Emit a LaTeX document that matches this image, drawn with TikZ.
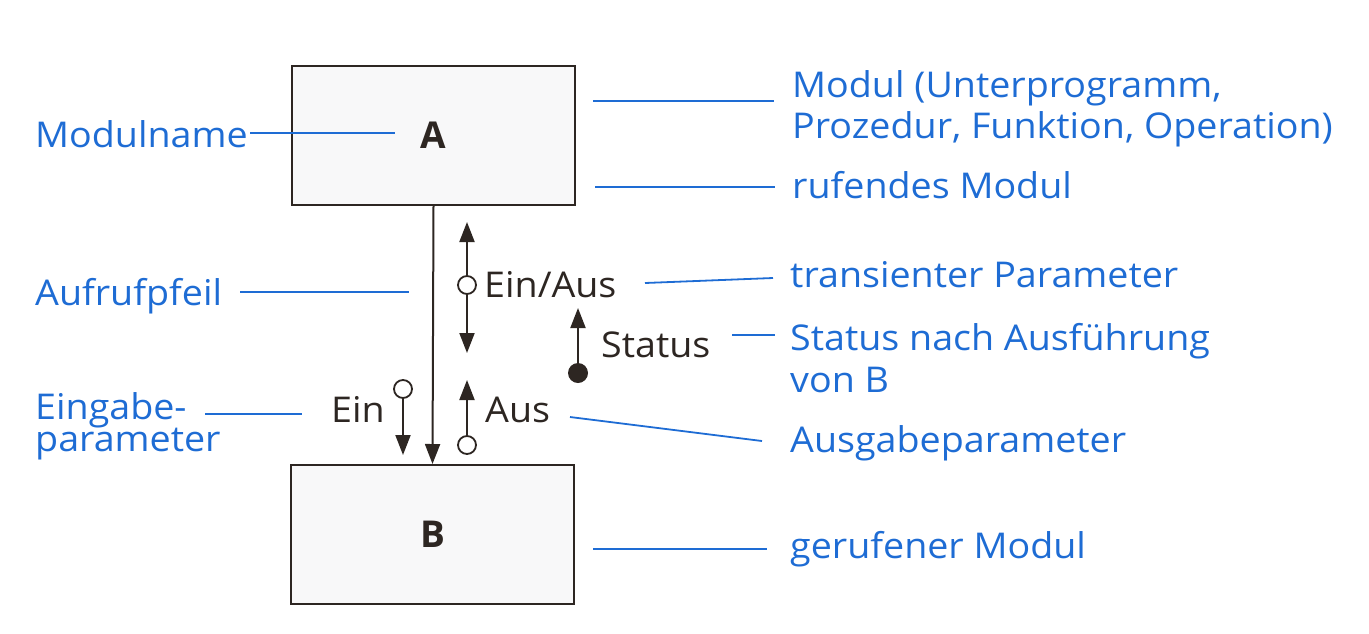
\documentclass[tikz,border=0pt]{standalone}
\usepackage{fontspec}
\setmainfont{Open Sans}
\usetikzlibrary{arrows.meta}
\definecolor{lblue}{RGB}{30,108,212}
\definecolor{ink}{RGB}{45,38,34}
\definecolor{boxfill}{RGB}{248,248,249}
\tikzset{
 modbox/.style={draw=ink, line width=2pt, fill=boxfill, minimum width=283pt, minimum height=139pt, font=\fontsize{37}{42}\selectfont\bfseries, text=ink, inner sep=0},
 lbl/.style={anchor=base west, inner sep=0, xscale=1.06, text=lblue, font=\fontsize{35.5}{42}\selectfont},
 blk/.style={anchor=base west, inner sep=0, xscale=1.06, text=ink, font=\fontsize{35.5}{42}\selectfont},
 lead/.style={draw=lblue, line width=1.8pt},
 flow/.style={draw=ink, line width=2pt, -{Triangle[length=20pt,width=15pt]}},
 opendot/.style={circle, draw=ink, line width=1.8pt, fill=white, minimum size=18pt, inner sep=0},
 fulldot/.style={circle, fill=ink, minimum size=20pt, inner sep=0},
}
\begin{document}
\begin{tikzpicture}[x=1pt,y=-1pt]
\useasboundingbox (0,0) rectangle (1369,633);
% modules
\node[modbox] (A) at (433.5,135.5) {A};
\node[modbox] (B) at (432.5,534.5) {B};
\draw[flow] (A.south) -- (B.north);
% parameters
\node[opendot] (eacirc) at (467,285) {};
\coordinate (eatop) at (467,222);
\coordinate (eabot) at (467,353);
\draw[flow] (eacirc) -- (eatop);
\draw[flow] (eacirc) -- (eabot);
\node[blk] (einaus) at (484,297) {Ein/Aus};
\node[fulldot] (stdot) at (578,373) {};
\coordinate (sttop) at (578,308);
\draw[flow] (stdot) -- (sttop);
\node[blk] (status) at (601,357) {Status};
\node[opendot] (auscirc) at (467,445) {};
\coordinate (austop) at (467,380);
\draw[flow] (auscirc) -- (austop);
\node[blk] (aus) at (485,422) {Aus};
\node[opendot] (eincirc) at (403,389) {};
\coordinate (einbot) at (403,455);
\draw[flow] (eincirc) -- (einbot);
\node[blk] (ein) at (331,422) {Ein};
% left labels
\node[lbl] (modulname) at (35,147) {Modulname};
\node[lbl] (aufruf) at (35,305) {Aufrufpfeil};
\node[lbl] (eingabe1) at (35,419) {Eingabe-};
\node[lbl] (eingabe2) at (35,451) {parameter};
\coordinate (l1a) at (250,133); \coordinate (l1b) at (395,133);
\coordinate (l2a) at (240,292); \coordinate (l2b) at (409,292);
\coordinate (l3a) at (205,414); \coordinate (l3b) at (302,414);
\draw[lead] (l1a) -- (l1b);
\draw[lead] (l2a) -- (l2b);
\draw[lead] (l3a) -- (l3b);
% right labels
\node[lbl] (modul1) at (792,97) {Modul (Unterprogramm,};
\node[lbl] (modul2) at (792,138) {Prozedur, Funktion, Operation)};
\node[lbl] (rufend) at (792,198) {rufendes Modul};
\node[lbl] (trans) at (790,287) {transienter Parameter};
\node[lbl] (stat1) at (790,350) {Status nach Ausführung};
\node[lbl] (stat2) at (790,392) {von B};
\node[lbl] (ausgabe) at (790,452) {Ausgabeparameter};
\node[lbl] (geruf) at (790,558) {gerufener Modul};
\coordinate (r1a) at (593,101); \coordinate (r1b) at (774,101);
\coordinate (r2a) at (595,187); \coordinate (r2b) at (775,187);
\coordinate (r3a) at (645,283); \coordinate (r3b) at (773,278);
\coordinate (r4a) at (732,335); \coordinate (r4b) at (775,335);
\coordinate (r5a) at (570,417); \coordinate (r5b) at (762,441);
\coordinate (r6a) at (593,549); \coordinate (r6b) at (767,549);
\draw[lead] (r1a) -- (r1b);
\draw[lead] (r2a) -- (r2b);
\draw[lead] (r3a) -- (r3b);
\draw[lead] (r4a) -- (r4b);
\draw[lead] (r5a) -- (r5b);
\draw[lead] (r6a) -- (r6b);
\end{tikzpicture}
\end{document}
